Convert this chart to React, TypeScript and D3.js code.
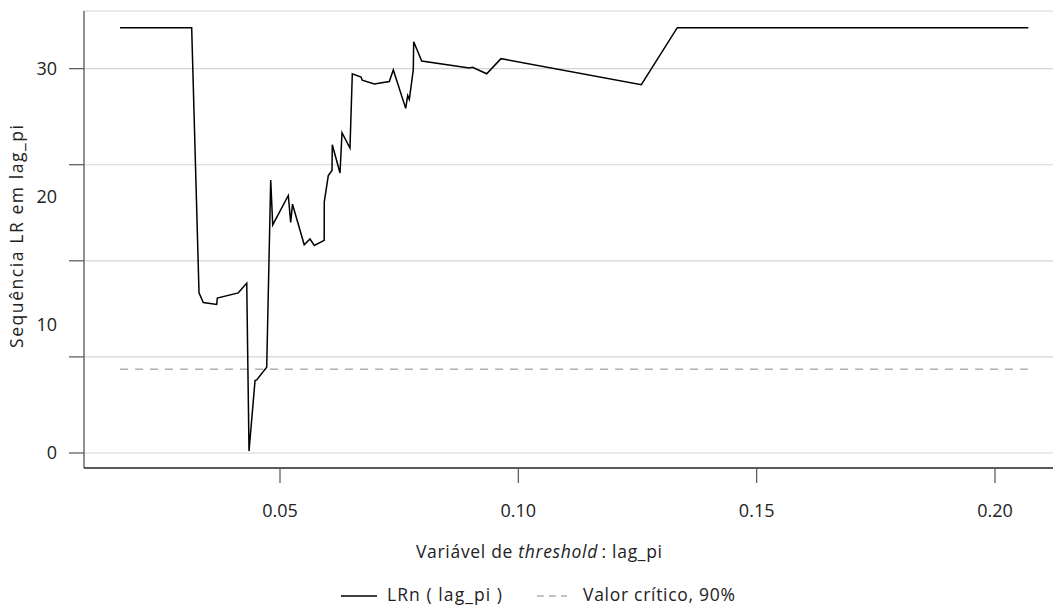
import React from 'react';
import * as d3 from 'd3';

// threshold values (lag_pi) and the LR sequence
const thresholds = [
  0.01644, 0.03147, 0.03301, 0.03391, 0.03672, 0.03685, 0.04125, 0.04302, 0.0435, 0.04476,
  0.04511, 0.04721, 0.04805, 0.04847, 0.05174, 0.05224, 0.05262, 0.05508, 0.05629, 0.0572,
  0.05927, 0.05929, 0.06013, 0.06091, 0.06097, 0.06259, 0.06301, 0.06468, 0.06517, 0.06699,
  0.06726, 0.06978, 0.07293, 0.07377, 0.07637, 0.07679, 0.07713, 0.07796, 0.07805, 0.07973,
  0.08971, 0.09038, 0.09336, 0.09636, 0.1258, 0.13335, 0.20698,
];
const lrValues = [
  33.2, 33.2, 12.5, 11.74, 11.6, 12.1, 12.5, 13.26, 0.15, 5.65,
  5.7, 6.7, 21.3, 17.8, 20.1, 18.0, 19.42, 16.25, 16.7, 16.2,
  16.6, 19.6, 21.65, 22.05, 24.06, 21.85, 25.0, 23.8, 29.6, 29.35,
  29.1, 28.8, 29.0, 29.9, 26.9, 27.9, 27.6, 29.9, 32.1, 30.6,
  30.05, 30.1, 29.6, 30.78, 28.75, 33.2, 33.2,
];
const criticalValue = 6.53;

const xTicks = [0.05, 0.1, 0.15, 0.2];
const yGridTicks = [0, 7.5, 15, 22.5, 30];
const yLabelTicks = [0, 10, 20, 30];

const W = 1053;
const H = 605;
const FONT = '"Open Sans", "DejaVu Sans", sans-serif';
const INK = '#222';

export default function App() {
  const x = d3.scaleLinear().domain([0, 0.2]).range([41.67, 995]);
  const y = d3.scaleLinear().domain([0, 34.5]).range([453, 11]);

  const plotLeft = 84;
  const plotRight = W;
  const plotBottom = 468;
  const plotTop = y(34.5);

  const pts = thresholds.map((t, i) => [t, lrValues[i]] as [number, number]);
  const line = d3.line<[number, number]>()
    .x(d => x(d[0]))
    .y(d => y(d[1]));

  const xMin = thresholds[0];
  const xMax = thresholds[thresholds.length - 1];

  return (
    <svg width={W} height={H} style={{ position: 'absolute', left: 0, top: 0, background: '#fff' }}
      fontFamily={FONT}>
      {/* gridlines */}
      <line x1={plotLeft} x2={plotRight} y1={plotTop} y2={plotTop} stroke="#d4d4d4" strokeWidth={1.2} />
      {yGridTicks.map(t => (
        <line key={'g' + t} x1={plotLeft} x2={plotRight} y1={y(t)} y2={y(t)} stroke="#d4d4d4" strokeWidth={1.2} />
      ))}

      {/* critical value */}
      <line x1={x(xMin)} x2={x(xMax)} y1={y(criticalValue)} y2={y(criticalValue)}
        stroke="#b0b0b0" strokeWidth={1.5} strokeDasharray="8,7" />

      {/* LR sequence */}
      <path d={line(pts) || ''} fill="none" stroke="#000" strokeWidth={1.5} strokeLinejoin="miter" />

      {/* axes */}
      <line x1={plotLeft} x2={plotLeft} y1={plotTop} y2={plotBottom} stroke="#555" strokeWidth={1.3} />
      <line x1={plotLeft} x2={plotRight} y1={plotBottom} y2={plotBottom} stroke="#222" strokeWidth={1.3} />

      {yGridTicks.map(t => (
        <line key={'yt' + t} x1={69} x2={plotLeft} y1={y(t)} y2={y(t)} stroke="#555" strokeWidth={1.2} />
      ))}
      {yLabelTicks.map(t => (
        <text key={'yl' + t} x={57} y={y(t)} dy="0.35em" textAnchor="end" fontSize={18} fill={INK}>{t}</text>
      ))}

      {xTicks.map(t => (
        <g key={'xt' + t}>
          <line x1={x(t)} x2={x(t)} y1={plotBottom} y2={483} stroke="#555" strokeWidth={1.2} />
          <text x={x(t)} y={511} dy="0.35em" textAnchor="middle" fontSize={18} fill={INK}>{d3.format('.2f')(t)}</text>
        </g>
      ))}

      {/* axis titles */}
      <text transform="translate(17,236.5) rotate(-90)" x={-111.5} dy="0.35em" fontSize={17.5} fill={INK}
        textLength={223} lengthAdjust="spacing">
        Sequência LR em lag_pi
      </text>
      <text x={416} y={558} fontSize={17.5} fill={INK} textLength={246} lengthAdjust="spacing">
        Variável de <tspan fontStyle="italic">threshold</tspan>{'\u2009: lag_pi'}
      </text>

      {/* legend */}
      <line x1={341} x2={377} y1={596} y2={596} stroke="#000" strokeWidth={1.5} />
      <text x={387} y={601} fontSize={17.5} fill={INK} textLength={115} lengthAdjust="spacing">LRn ( lag_pi )</text>
      <line x1={537} x2={567} y1={596} y2={596} stroke="#b0b0b0" strokeWidth={1.5} strokeDasharray="7,5" />
      <text x={583} y={601} fontSize={17.5} fill={INK} textLength={152} lengthAdjust="spacing">Valor crítico, 90%</text>
    </svg>
  );
}
